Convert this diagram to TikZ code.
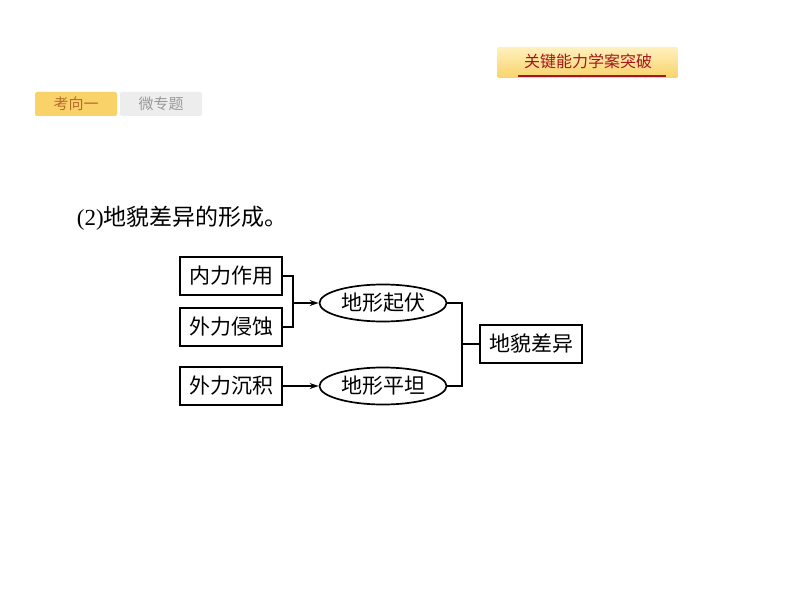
\documentclass[tikz,border=0pt]{standalone}
\usepackage{fontspec}
\setmainfont{Liberation Serif}
\newfontfamily\cjk{Noto Sans CJK SC}
\usetikzlibrary{shapes.geometric,arrows.meta}

\definecolor{tabred}{HTML}{A3161E}
\definecolor{tabgold}{HTML}{F9D36A}
\definecolor{tabpale}{HTML}{FFF0BE}
\definecolor{tabbrown}{HTML}{B86A2A}

\begin{document}
\begin{tikzpicture}[x=1pt,y=-1pt]
    \useasboundingbox (0,0) rectangle (794,596);
    \begin{scope}[line width=1.7pt,font=\cjk\fontsize{21}{21}\selectfont,
        box/.style={draw,line width=2.2pt,minimum width=102pt,minimum height=38pt,inner sep=0pt},
        oval/.style={draw,ellipse,line width=1.7pt,minimum width=127pt,minimum height=37pt,inner sep=0pt},
        arr/.style={-{Stealth[length=9pt,width=6pt]}}]

    % header tabs
    \node [rounded corners=2pt, top color=tabpale, bottom color=tabgold,
        minimum width=181pt, minimum height=31pt] (gj) at (587.5,62.5) {};
    \node [text=tabred, font=\cjk\fontsize{16}{16}\selectfont] (gjt) at (588,61) {关键能力学案突破};
    \draw [tabred, line width=1.2pt] (518,76) -- (666,76);

    \node [fill=tabgold, rounded corners=2pt, minimum width=82pt, minimum height=24pt,
        text=tabbrown, font=\cjk\fontsize{15}{15}\selectfont] (kx) at (76,104) {考向一};
    \node [fill=black!7, rounded corners=2pt, minimum width=82pt, minimum height=24pt,
        text=black!40, font=\cjk\fontsize{15}{15}\selectfont] (wz) at (161,104) {微专题};

    \node [anchor=west, inner sep=0pt, font=\fontsize{23}{23}\selectfont] (title) at (76,218) {(2)\cjk 地貌差异的形成。};

    % diagram
    \node [box]  (nl) at (231,276) {内力作用};
    \node [box]  (qs) at (231,327) {外力侵蚀};
    \node [box]  (cj) at (231,386) {外力沉积};
    \node [oval] (qf) at (383,303) {地形起伏};
    \node [oval] (pt) at (383,386) {地形平坦};
    \node [box]  (cy) at (531,344) {地貌差异};

    \coordinate (j1) at (293,303);
    \coordinate (j2) at (462,344);

    \draw (nl.east) -| (j1) |- (qs.east);
    \draw [arr] (j1) -- (qf.west);
    \draw [arr] (cj.east) -- (pt.west);
    \draw (qf.east) -| (j2) |- (pt.east);
    \draw (j2) -- (cy.west);
\end{scope}
\end{tikzpicture}
\end{document}
